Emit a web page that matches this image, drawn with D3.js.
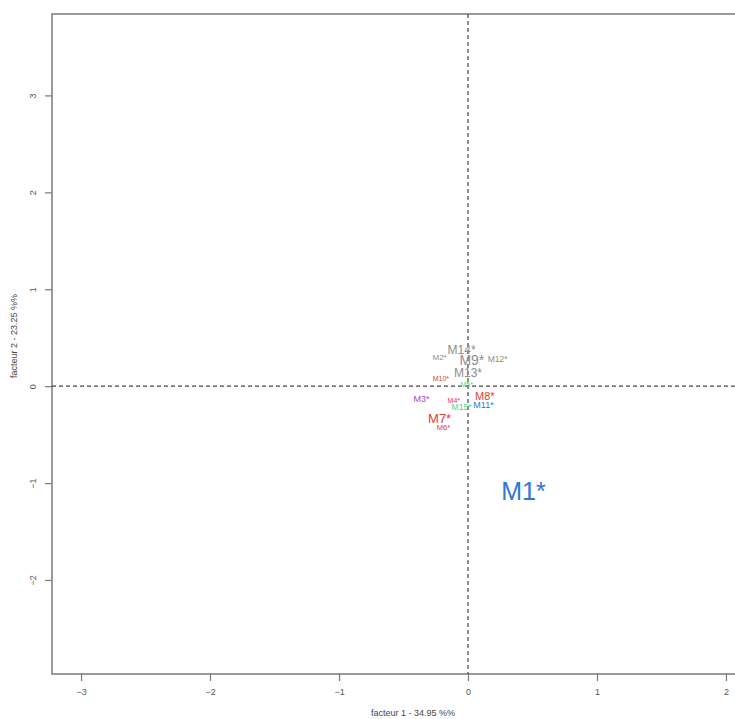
<!DOCTYPE html>
<html>
<head>
<meta charset="utf-8">
<script src="https://cdn.jsdelivr.net/npm/d3@7"></script>
<style>
  body { margin: 0; background: #fff; }
  svg { display: block; font-family: "Liberation Sans", Arial, sans-serif; }
</style>
</head>
<body>
<svg id="chart" width="735" height="719"></svg>
<script>
// individuals on the factorial plane
const labels = ['M1*', 'M2*', 'M3*', 'M4*', 'M5*', 'M6*', 'M7*', 'M8*', 'M9*', 'M10*', 'M11*', 'M12*', 'M13*', 'M14*', 'M15*'];
const f1 = [0.43, -0.22, -0.36, -0.11, -0.01, -0.19, -0.22, 0.13, 0.03, -0.21, 0.12, 0.23, 0.00, -0.05, -0.05];
const f2 = [-1.08, 0.30, -0.13, -0.15, 0.02, -0.43, -0.33, -0.10, 0.27, 0.08, -0.19, 0.28, 0.14, 0.38, -0.22];
const groups = ['blue', 'grey', 'purple', 'red', 'green', 'red', 'red', 'red', 'grey', 'red', 'blue', 'grey', 'grey', 'grey', 'green'];
const sizes = [25, 8, 9, 7, 7, 7.5, 13, 11, 14, 7, 9, 8.5, 12, 12, 8.5];
const xTicks = [-3, -2, -1, 0, 1, 2];
const yTicks = [-2, -1, 0, 1, 2, 3];

const palette = { blue: '#2f77d2', grey: '#8e8e8e', purple: '#b33bd0', red: '#e2403a', green: '#39d98a' };

const svg = d3.select('#chart');
const x = d3.scaleLinear().domain([-3.225, 2.07]).range([52, 735]);
const y = d3.scaleLinear().domain([-2.97, 3.84]).range([674, 14]);

// frame
svg.append('path')
  .attr('d', `M${x.range()[1] + 2},${y.range()[1]} H${x.range()[0]} V${y.range()[0]} H${x.range()[1] + 2}`)
  .attr('fill', 'none')
  .attr('stroke', '#7a7a7a')
  .attr('stroke-width', 1.5);

// zero lines
svg.append('line')
  .attr('x1', x(0)).attr('x2', x(0))
  .attr('y1', y.range()[1]).attr('y2', y.range()[0])
  .attr('stroke', '#444').attr('stroke-width', 1.2)
  .attr('stroke-dasharray', '4,3');
svg.append('line')
  .attr('x1', x.range()[0]).attr('x2', x.range()[1])
  .attr('y1', y(0)).attr('y2', y(0))
  .attr('stroke', '#444').attr('stroke-width', 1.2)
  .attr('stroke-dasharray', '4,3');

// axes
const xAxis = svg.append('g')
  .attr('transform', `translate(0, ${y.range()[0]})`)
  .call(d3.axisBottom(x).tickValues(xTicks).tickSize(7).tickPadding(8).tickFormat(d3.format('d')));
const yAxis = svg.append('g')
  .attr('transform', `translate(${x.range()[0]}, 0)`)
  .call(d3.axisLeft(y).tickValues(yTicks).tickSize(7).tickPadding(8).tickFormat(d3.format('d')));

[xAxis, yAxis].forEach(a => {
  a.select('.domain').remove();
  a.selectAll('line').attr('stroke', '#7a7a7a').attr('stroke-width', 1.2);
  a.selectAll('text').attr('fill', '#555').attr('font-size', 9);
});
yAxis.selectAll('text')
  .attr('text-anchor', 'middle')
  .attr('dy', 0)
  .attr('x', 0)
  .attr('transform', 'translate(-16, 0) rotate(-90)');

// axis titles
svg.append('text')
  .attr('x', 413).attr('y', 716)
  .attr('text-anchor', 'middle')
  .attr('font-size', 9).attr('fill', '#444')
  .text('facteur  1  - 34.95 %%');
svg.append('text')
  .attr('transform', `translate(17, 336) rotate(-90)`)
  .attr('text-anchor', 'middle')
  .attr('font-size', 9).attr('fill', '#444')
  .text('facteur  2  - 23.25 %%');

// labels
svg.append('g').selectAll('text')
  .data(labels)
  .join('text')
  .attr('x', (d, i) => x(f1[i]))
  .attr('y', (d, i) => y(f2[i]))
  .attr('dy', '0.35em')
  .attr('text-anchor', 'middle')
  .attr('font-size', (d, i) => sizes[i])
  .attr('fill', (d, i) => palette[groups[i]])
  .text(d => d);
</script>
</body>
</html>
